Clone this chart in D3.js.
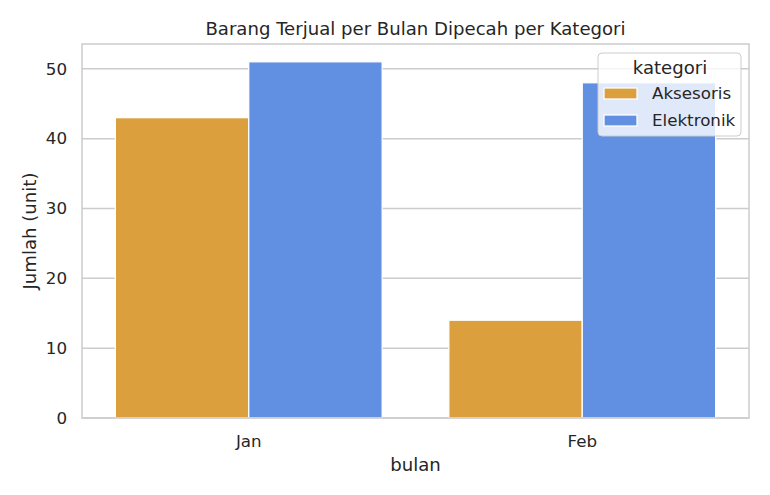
<!DOCTYPE html>
<html>
<head>
<meta charset="utf-8">
<script src="https://cdn.jsdelivr.net/npm/d3@7"></script>
<style>
  body { margin: 0; background: #fff; }
  text { font-family: "DejaVu Sans", sans-serif; fill: #262626; }
</style>
</head>
<body>
<svg id="chart"></svg>
<script>
// data
var bulan = ["Jan", "Feb"];
var kategori = ["Aksesoris", "Elektronik"];
var aksesoris = [43, 14];
var elektronik = [51, 48];
var yTicks = [0, 10, 20, 30, 40, 50];
var warna = ["#dc9f3e", "#6190e2"];

var width = 770, height = 495;
var margin = {top: 44, right: 21, bottom: 77, left: 82};
var innerW = width - margin.left - margin.right;
var innerH = height - margin.top - margin.bottom;

var svg = d3.select("#chart").attr("width", width).attr("height", height);
var g = svg.append("g").attr("transform", "translate(" + margin.left + "," + margin.top + ")");

var rows = bulan.map(function (b, i) {
  return {bulan: b, values: [aksesoris[i], elektronik[i]]};
});

var x = d3.scaleBand().domain(bulan).range([0, innerW]).paddingInner(0).paddingOuter(0);
var xHue = d3.scaleBand().domain(kategori).range([x.bandwidth() * 0.1, x.bandwidth() * 0.9]);
var maxV = d3.max(aksesoris.concat(elektronik));
var y = d3.scaleLinear().domain([0, maxV * 1.05]).range([innerH, 0]);

// grid horizontal
g.selectAll(".grid").data(yTicks).enter().append("line")
  .attr("x1", 0).attr("x2", innerW)
  .attr("y1", function (d) { return y(d); }).attr("y2", function (d) { return y(d); })
  .attr("stroke", "#cccccc").attr("stroke-width", 1.5);

// bars
var grp = g.selectAll(".grp").data(rows).enter().append("g")
  .attr("transform", function (d) { return "translate(" + x(d.bulan) + ",0)"; });
grp.selectAll("rect").data(function (d) {
    return d.values.map(function (v, j) { return {k: kategori[j], v: v, j: j}; });
  }).enter().append("rect")
  .attr("x", function (d) { return xHue(d.k); })
  .attr("width", xHue.bandwidth())
  .attr("y", function (d) { return y(d.v); })
  .attr("height", function (d) { return innerH - y(d.v); })
  .attr("fill", function (d) { return warna[d.j]; })
  .attr("stroke", "#ffffff").attr("stroke-width", 1.25);

// frame
g.append("rect").attr("x", 0).attr("y", 0).attr("width", innerW).attr("height", innerH)
  .attr("fill", "none").attr("stroke", "#cccccc").attr("stroke-width", 1.5);

// axes
var yAxis = g.append("g").call(d3.axisLeft(y).tickValues(yTicks).tickSize(0).tickPadding(15));
yAxis.select(".domain").remove();
yAxis.selectAll("text").style("font-size", "16.7px").style("font-family", "DejaVu Sans").attr("fill", "#262626");

var xAxis = g.append("g").attr("transform", "translate(0," + innerH + ")")
  .call(d3.axisBottom(x).tickSize(0).tickPadding(17));
xAxis.select(".domain").remove();
xAxis.selectAll("text").style("font-size", "16.7px").style("font-family", "DejaVu Sans").attr("fill", "#262626");

// labels
svg.append("text").attr("x", margin.left + innerW / 2).attr("y", 35)
  .attr("text-anchor", "middle").style("font-size", "18.1px")
  .text("Barang Terjual per Bulan Dipecah per Kategori");
svg.append("text").attr("x", margin.left + innerW / 2).attr("y", 471)
  .attr("text-anchor", "middle").style("font-size", "18.1px").text("bulan");
svg.append("text").attr("transform", "translate(36," + (margin.top + innerH / 2) + ") rotate(-90)")
  .attr("text-anchor", "middle").style("font-size", "18.1px").text("Jumlah (unit)");

// legend
var lg = svg.append("g").attr("transform", "translate(598,53)");
lg.append("rect").attr("width", 143).attr("height", 83).attr("rx", 4)
  .attr("fill", "#ffffff").attr("fill-opacity", 0.8).attr("stroke", "#cccccc").attr("stroke-width", 1);
lg.append("text").attr("x", 72).attr("y", 21).attr("text-anchor", "middle")
  .style("font-size", "18.1px").text("kategori");
kategori.forEach(function (k, i) {
  var yy = 40 + i * 27;
  lg.append("rect").attr("x", 6).attr("y", yy - 5).attr("width", 33).attr("height", 11)
    .attr("fill", warna[i]).attr("stroke", "#fff").attr("stroke-width", 1.25);
  lg.append("text").attr("x", 54).attr("y", yy + 6).style("font-size", "16.7px").text(k);
});
</script>
</body>
</html>
